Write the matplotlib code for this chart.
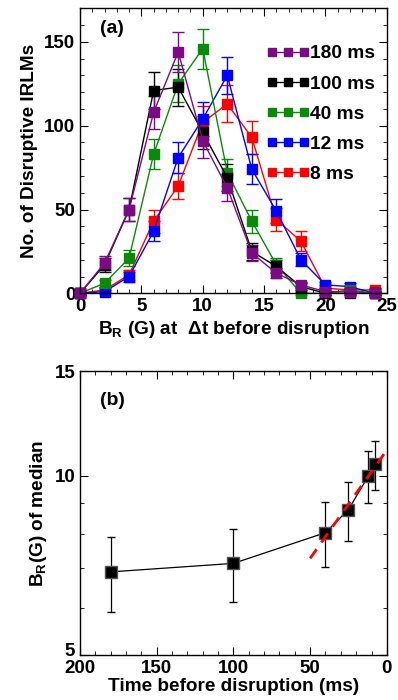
import numpy as np
import matplotlib
matplotlib.use("Agg")
import matplotlib.pyplot as plt
import matplotlib.transforms as mtransforms
from matplotlib.ticker import MultipleLocator, FixedLocator, NullFormatter, FixedFormatter

plt.rcParams.update({
    "font.family": ["Liberation Sans", "DejaVu Sans"],
    "font.weight": "bold",
    "font.size": 12,
    "axes.labelweight": "bold",
    "mathtext.fontset": "custom",
    "mathtext.rm": "Liberation Sans:bold",
    "mathtext.bf": "Liberation Sans:bold",
    "mathtext.default": "rm",
    "xtick.direction": "in",
    "ytick.direction": "in",
    "xtick.top": True,
    "ytick.right": True,
    "xtick.minor.visible": True,
    "ytick.minor.visible": True,
    "xtick.major.size": 6,
    "ytick.major.size": 6,
    "xtick.minor.size": 3,
    "ytick.minor.size": 3,
    "axes.linewidth": 1.0,
})

# panel (a): counts vs B_R for several times before disruption
br = [0, 2, 4, 6, 8, 10, 12, 14, 16, 18, 20, 22, 24]
series_labels = ["180 ms", "100 ms", "40 ms", "12 ms", "8 ms"]
counts_180 = [0, 18, 50, 108, 144, 91, 63, 24, 12, 5, 1, 1, 0]
err_180 = [1, 4, 7, 10, 12, 10, 8, 5, 3, 2, 1, 1, 1]
counts_100 = [0, 17, 50, 121, 123, 96, 69, 25, 16, 4, 0, 0, 0]
err_100 = [1, 4, 7, 11, 11, 10, 8, 5, 4, 2, 1, 1, 1]
counts_40 = [0, 6, 21, 83, 125, 146, 72, 43, 17, 0, 0, 2, 0]
err_40 = [1, 2, 5, 9, 11, 12, 8, 7, 4, 1, 1, 1, 1]
counts_12 = [0, 1, 10, 37, 81, 104, 130, 74, 49, 20, 5, 4, 0]
err_12 = [1, 1, 3, 6, 9, 10, 11, 9, 7, 4, 2, 2, 1]
counts_8 = [0, 2, 11, 43, 64, 102, 113, 93, 44, 31, 3, 2, 2]
err_8 = [1, 1, 3, 7, 8, 10, 11, 10, 7, 6, 2, 1, 1]

# panel (b): median B_R vs time before disruption
t_before = [180, 100, 40, 25, 12, 8]
br_median = [6.9, 7.13, 8.03, 8.78, 10.0, 10.46]
br_err = [1.0, 1.0, 1.0, 1.0, 1.0, 1.0]
fit_t = [50, 0]
fit_br = [7.27, 11.05]

COLORS = {
    "180 ms": "#7b0a85",
    "100 ms": "#000000",
    "40 ms": "#0a8a0a",
    "12 ms": "#0000ff",
    "8 ms": "#ff0000",
}

fig = plt.figure(figsize=(3.98, 7.0), dpi=100)
ax1 = fig.add_axes([0.201, 0.581, 0.771, 0.407])
ax2 = fig.add_axes([0.201, 0.064, 0.771, 0.406])

data = {
    "180 ms": (counts_180, err_180),
    "100 ms": (counts_100, err_100),
    "40 ms": (counts_40, err_40),
    "12 ms": (counts_12, err_12),
    "8 ms": (counts_8, err_8),
}
handles = {}
for lab in ["8 ms", "12 ms", "40 ms", "100 ms", "180 ms"]:
    y, e = data[lab]
    c = COLORS[lab]
    eb = ax1.errorbar(br, y, yerr=e, color=c, lw=1.0, elinewidth=1.0,
                      capsize=4, marker="s", ms=7.5, mfc=c, mec=c,
                      clip_on=False)
    handles[lab] = eb.lines[0]
    for art in eb.lines[1] + eb.lines[2]:
        art.set_clip_on(False)

ax1.set_xlim(0, 25)
ax1.set_ylim(0, 170)
ax1.xaxis.set_major_locator(MultipleLocator(5))
ax1.xaxis.set_minor_locator(MultipleLocator(1))
ax1.yaxis.set_major_locator(MultipleLocator(50))
ax1.yaxis.set_minor_locator(MultipleLocator(10))
ax1.tick_params(labelsize=13.5)
ax1.set_xlabel(r"B$_\mathregular{R}$ (G) at  $\Delta$t before disruption", fontsize=13.7, labelpad=3)
ax1.set_ylabel("No. of Disruptive IRLMs", fontsize=13.7, labelpad=4)
ax1.text(0.065, 0.915, "(a)", transform=ax1.transAxes, fontsize=14, fontweight="bold")
ax1.legend([handles[l] for l in series_labels], series_labels, loc="upper left",
           bbox_to_anchor=(0.575, 0.905), frameon=False, numpoints=3,
           handlelength=2.3, handletextpad=0.0, labelspacing=0.66,
           markerscale=0.75, fontsize=13.8, borderpad=0)

# panel (b)
ax2.errorbar(t_before, br_median, yerr=br_err, color="black", lw=0.9,
             elinewidth=0.9, capsize=3, marker="s", ms=8, mfc="black",
             mec="#555555", zorder=3)
ax2.plot(fit_t, fit_br, color="red", lw=2, ls=(0, (4, 3)), zorder=4)
ax2.set_yscale("log")
ax2.set_xlim(200, 0)
ax2.set_ylim(5, 15)
ax2.xaxis.set_major_locator(MultipleLocator(50))
ax2.xaxis.set_minor_locator(MultipleLocator(10))
ax2.yaxis.set_major_locator(FixedLocator([5, 10, 15]))
ax2.yaxis.set_major_formatter(FixedFormatter(["5", "10", "15"]))
ax2.yaxis.set_minor_locator(FixedLocator([6, 7, 8, 9]))
ax2.yaxis.set_minor_formatter(NullFormatter())
ax2.tick_params(labelsize=13.5)
ax2.set_xlabel("Time before disruption (ms)", fontsize=13.7, labelpad=1)
ax2.set_ylabel(r"B$_\mathregular{R}$(G) of median", fontsize=13.7, labelpad=4)
ax2.text(0.065, 0.88, "(b)", transform=ax2.transAxes, fontsize=14, fontweight="bold")

# lift the lowest y label a little so it clears the "200"
fig.canvas.draw()
lbl5 = ax2.get_yticklabels()[0]
lbl5.set_transform(lbl5.get_transform() +
                   mtransforms.ScaledTranslation(0, 4 / 72, fig.dpi_scale_trans))

fig.savefig("out.png", dpi=100)
